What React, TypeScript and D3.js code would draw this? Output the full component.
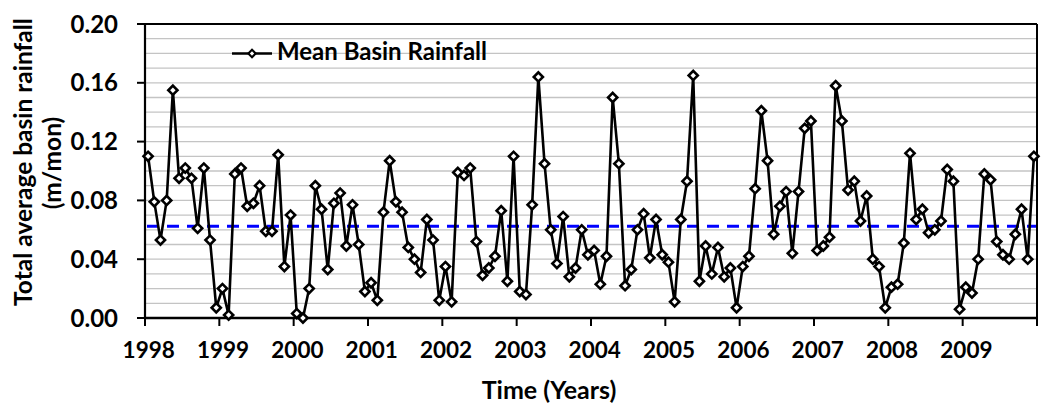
import React from "react";
import * as d3 from "d3";

const years = [1998, 1999, 2000, 2001, 2002, 2003, 2004, 2005, 2006, 2007, 2008, 2009];
const rainfall1998 = [0.110, 0.079, 0.053, 0.080, 0.155, 0.095, 0.102, 0.095, 0.061, 0.102, 0.053, 0.007];
const rainfall1999 = [0.020, 0.002, 0.098, 0.102, 0.076, 0.078, 0.090, 0.059, 0.059, 0.111, 0.035, 0.070];
const rainfall2000 = [0.003, 0.000, 0.020, 0.090, 0.074, 0.033, 0.078, 0.085, 0.049, 0.077, 0.050, 0.018];
const rainfall2001 = [0.024, 0.012, 0.072, 0.107, 0.079, 0.072, 0.048, 0.040, 0.031, 0.067, 0.053, 0.012];
const rainfall2002 = [0.035, 0.011, 0.099, 0.097, 0.102, 0.052, 0.029, 0.034, 0.042, 0.073, 0.025, 0.110];
const rainfall2003 = [0.018, 0.016, 0.077, 0.164, 0.105, 0.060, 0.037, 0.069, 0.028, 0.034, 0.060, 0.043];
const rainfall2004 = [0.046, 0.023, 0.042, 0.150, 0.105, 0.022, 0.033, 0.060, 0.071, 0.041, 0.067, 0.043];
const rainfall2005 = [0.038, 0.011, 0.067, 0.093, 0.165, 0.025, 0.049, 0.030, 0.048, 0.028, 0.034, 0.007];
const rainfall2006 = [0.035, 0.042, 0.088, 0.141, 0.107, 0.057, 0.076, 0.086, 0.044, 0.086, 0.129, 0.134];
const rainfall2007 = [0.046, 0.049, 0.055, 0.158, 0.134, 0.087, 0.093, 0.066, 0.083, 0.040, 0.035, 0.007];
const rainfall2008 = [0.021, 0.023, 0.051, 0.112, 0.067, 0.074, 0.058, 0.060, 0.066, 0.101, 0.093, 0.006];
const rainfall2009 = [0.021, 0.017, 0.040, 0.098, 0.094, 0.052, 0.043, 0.040, 0.057, 0.074, 0.040, 0.110];

const yTicks = [0.0, 0.04, 0.08, 0.12, 0.16, 0.2];
const gridValues = d3.range(1, 20).map((d) => d / 100);

const seriesName = "Mean Basin Rainfall";
const yTitle1 = "Total average basin rainfall";
const yTitle2 = "(m/mon)";
const xTitle = "Time (Years)";

const values = [
  ...rainfall1998, ...rainfall1999, ...rainfall2000, ...rainfall2001,
  ...rainfall2002, ...rainfall2003, ...rainfall2004, ...rainfall2005,
  ...rainfall2006, ...rainfall2007, ...rainfall2008, ...rainfall2009,
];

const W = 1043;
const H = 403;
const left = 145;
const right = 1037;
const top = 24;
const bottom = 318;
const FONT = "Lato, 'Open Sans', sans-serif";

export default function App() {
  const nMonths = values.length;
  const x = d3.scaleLinear().domain([0, nMonths]).range([left, right]);
  const y = d3.scaleLinear().domain([0, 0.2]).range([bottom, top]);
  const mean = d3.mean(values) as number;

  const line = d3
    .line<number>()
    .x((_, i) => x(i + 0.5))
    .y((d) => y(d));

  const diamond = d3.symbol().type(d3.symbolSquare).size(42)() as string;

  const yearTicks = d3.range(0, years.length + 1).map((k) => k * 12);

  return (
    <svg
      width={W}
      height={H}
      style={{ position: "absolute", left: 0, top: 0, background: "#fff" }}
      fontFamily={FONT}
      fontWeight="bold"
    >
      {/* gridlines */}
      {gridValues.map((g) => (
        <line key={g} x1={left} x2={right} y1={y(g)} y2={y(g)} stroke="#c4c4c4" strokeWidth={1.3} />
      ))}

      {/* mean line */}
      <line
        x1={left + 2}
        x2={right - 1}
        y1={y(mean)}
        y2={y(mean)}
        stroke="#0000ff"
        strokeWidth={3}
        strokeDasharray="12,8"
      />

      {/* frame */}
      <line x1={left} x2={right} y1={top} y2={top} stroke="#000" strokeWidth={2} />
      <line x1={right} x2={right} y1={top} y2={bottom} stroke="#000" strokeWidth={2} />
      <line x1={left} x2={left} y1={top} y2={bottom} stroke="#000" strokeWidth={2.2} />
      <line x1={left - 1} x2={right + 1} y1={bottom} y2={bottom} stroke="#000" strokeWidth={2.6} />

      {/* y ticks */}
      {yTicks.map((t) => (
        <g key={t}>
          <line x1={left - 8} x2={left} y1={y(t)} y2={y(t)} stroke="#000" strokeWidth={2} />
          <text x={118} y={y(t)} dy="0.36em" textAnchor="end" fontSize={24} fill="#000">
            {d3.format(".2f")(t)}
          </text>
        </g>
      ))}

      {/* x ticks */}
      {yearTicks.map((m) => (
        <line key={m} x1={x(m)} x2={x(m)} y1={bottom} y2={bottom + 8} stroke="#000" strokeWidth={2} />
      ))}
      {years.map((yr, k) => (
        <text key={yr} x={x(k * 12 + 0.6)} y={358} textAnchor="middle" fontSize={22.5} fill="#000">
          {yr}
        </text>
      ))}

      {/* data line */}
      <path d={line(values) as string} fill="none" stroke="#000" strokeWidth={2.6} strokeLinejoin="round" />
      {values.map((v, i) => (
        <path
          key={i}
          d={diamond}
          transform={`translate(${x(i + 0.5)},${y(v)}) rotate(45)`}
          fill="#fff"
          stroke="#000"
          strokeWidth={2.6}
        />
      ))}

      {/* legend */}
      <line x1={232} x2={272} y1={53.5} y2={53.5} stroke="#000" strokeWidth={2.6} />
      <path d={diamond} transform="translate(252,53.5) rotate(45) scale(0.8)" fill="#fff" stroke="#000" strokeWidth={2.6} />
      <text x={277} y={60} fontSize={24} fill="#000">
        {seriesName}
      </text>

      {/* axis titles */}
      <text transform="translate(32,162) rotate(-90)" textAnchor="middle" fontSize={24.5} fill="#000">
        {yTitle1}
      </text>
      <text transform="translate(61,163) rotate(-90)" textAnchor="middle" fontSize={24.5} fill="#000">
        {yTitle2}
      </text>
      <text x={549} y={399} textAnchor="middle" fontSize={25} fill="#000">
        {xTitle}
      </text>
    </svg>
  );
}
